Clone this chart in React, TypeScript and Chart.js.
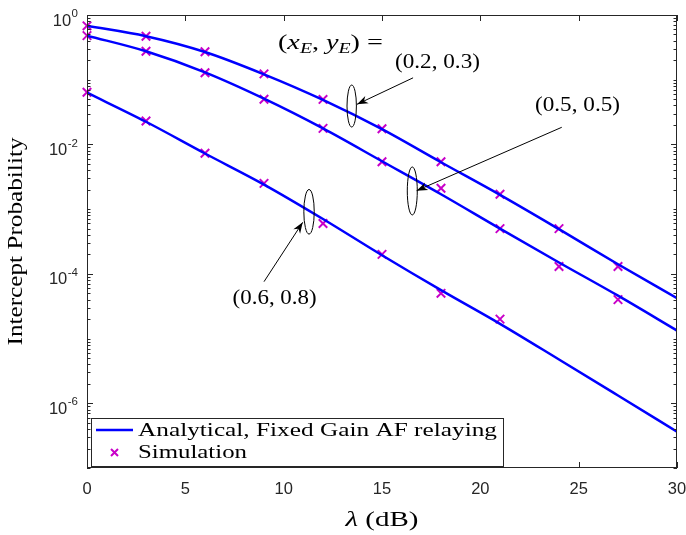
import { useEffect, useRef } from 'react';
import { Chart, registerables } from 'chart.js';

Chart.register(...registerables);

const W = 686;
const H = 535;

// x positions (dB)
const lambdaDb = [0, 3, 6, 9, 12, 15, 18, 21, 24, 27, 30];
const simLambda_02_03 = [0, 3, 6, 9, 12, 15, 18, 21, 24, 27];
const simLambda_05_05 = [0, 3, 6, 9, 12, 15, 18, 21, 24, 27];
const simLambda_06_08 = [0, 3, 6, 9, 12, 15, 18, 21];

// Analytical curves
const analytical_02_03 = [0.68, 0.47, 0.268, 0.121, 0.0487, 0.0172, 0.0053, 0.00166, 4.9e-4, 1.41e-4, 4.2e-5];
const analytical_05_05 = [0.48, 0.275, 0.13, 0.051, 0.0177, 0.0055, 0.0017, 5.0e-4, 1.5e-4, 4.6e-5, 1.33e-5];
const analytical_06_08 = [0.063, 0.0224, 0.00724, 0.0024, 7.05e-4, 1.94e-4, 5.6e-5, 1.69e-5, 4.75e-6, 1.32e-6, 3.65e-7];

// Simulation points
const sim_02_03 = [0.68, 0.47, 0.27, 0.123, 0.0496, 0.0175, 0.0054, 0.0017, 5.0e-4, 1.3e-4];
const sim_05_05 = [0.48, 0.275, 0.128, 0.05, 0.0177, 0.0054, 0.0021, 5.0e-4, 1.3e-4, 4.0e-5];
const sim_06_08 = [0.064, 0.023, 0.0073, 0.0025, 6.0e-4, 2.0e-4, 5.0e-5, 2.0e-5];

// Axis ticks
const xTicks = [0, 5, 10, 15, 20, 25, 30];
const xTickLabels = ['0', '5', '10', '15', '20', '25', '30'];
const yDecades = [0, -1, -2, -3, -4, -5, -6, -7];
const yLabelExps = [0, -2, -4, -6];

const LINE_COLOR = '#0000ff';
const MARK_COLOR = '#c800c8';
const AXIS_COLOR = '#262626';
const SERIF = '"Liberation Serif"';
const SANS = '"Liberation Sans"';

const zip = (xs: number[], ys: number[]) => ys.map((y, i) => ({ x: xs[i], y }));

type Seg = { t: string; font: string; dy?: number };

function drawRich(ctx: CanvasRenderingContext2D, segs: Seg[], cx: number, baseline: number, targetW: number) {
  const widths = segs.map((s) => {
    ctx.font = s.font;
    return ctx.measureText(s.t).width;
  });
  const total = widths.reduce((a, b) => a + b, 0);
  const sc = targetW / total;
  ctx.save();
  ctx.translate(cx - targetW / 2, baseline);
  ctx.scale(sc, 1);
  ctx.textAlign = 'left';
  ctx.textBaseline = 'alphabetic';
  let x = 0;
  segs.forEach((s, i) => {
    ctx.font = s.font;
    ctx.fillText(s.t, x, s.dy || 0);
    x += widths[i];
  });
  ctx.restore();
}

function drawX(ctx: CanvasRenderingContext2D, x: number, y: number, h: number) {
  ctx.beginPath();
  ctx.moveTo(x - h, y - h);
  ctx.lineTo(x + h, y + h);
  ctx.moveTo(x - h, y + h);
  ctx.lineTo(x + h, y - h);
  ctx.stroke();
}

function arrow(ctx: CanvasRenderingContext2D, x1: number, y1: number, x2: number, y2: number) {
  ctx.beginPath();
  ctx.moveTo(x1, y1);
  ctx.lineTo(x2, y2);
  ctx.stroke();
  const a = Math.atan2(y2 - y1, x2 - x1);
  const L = 11;
  const hw = 4;
  ctx.save();
  ctx.translate(x2, y2);
  ctx.rotate(a);
  ctx.beginPath();
  ctx.moveTo(0, 0);
  ctx.lineTo(-L, -hw);
  ctx.lineTo(-L * 0.7, 0);
  ctx.lineTo(-L, hw);
  ctx.closePath();
  ctx.fill();
  ctx.restore();
}

const decorPlugin = {
  id: 'decor',
  afterDraw(chart: any) {
    const ctx: CanvasRenderingContext2D = chart.ctx;
    const { left, right, top, bottom } = chart.chartArea;
    const xs = chart.scales.x;
    const ys = chart.scales.y;
    const P = (xv: number, yv: number) => [xs.getPixelForValue(xv), ys.getPixelForValue(yv)];
    ctx.save();

    // axes box
    ctx.strokeStyle = AXIS_COLOR;
    ctx.lineWidth = 1;
    ctx.strokeRect(left + 0.5, top + 0.5, right - left - 1, bottom - top - 1);

    // x ticks
    ctx.beginPath();
    xTicks.forEach((v) => {
      const px = Math.round(xs.getPixelForValue(v)) + 0.5;
      ctx.moveTo(px, bottom);
      ctx.lineTo(px, bottom - 6);
      ctx.moveTo(px, top);
      ctx.lineTo(px, top + 6);
    });
    // y ticks
    yDecades.forEach((e) => {
      for (let m = 1; m <= 9; m++) {
        const v = m * Math.pow(10, e);
        if (v > 1.0000001 || v < 0.99e-7) continue;
        const py = Math.round(ys.getPixelForValue(v)) + 0.5;
        const len = m === 1 && yLabelExps.includes(e) ? 6 : 3.5;
        ctx.moveTo(left, py);
        ctx.lineTo(left + len, py);
        ctx.moveTo(right, py);
        ctx.lineTo(right - len, py);
      }
    });
    ctx.stroke();

    // x tick labels
    ctx.fillStyle = AXIS_COLOR;
    ctx.font = `16.5px ${SANS}`;
    ctx.textAlign = 'center';
    ctx.textBaseline = 'middle';
    xTicks.forEach((v, i) => {
      ctx.fillText(xTickLabels[i], xs.getPixelForValue(v), 489);
    });

    // y tick labels 10^e
    yLabelExps.forEach((e) => {
      const py = ys.getPixelForValue(Math.pow(10, e));
      const sup = e === 0 ? '0' : '-' + String(-e);
      ctx.textAlign = 'right';
      ctx.textBaseline = 'middle';
      ctx.font = `11.5px ${SANS}`;
      const supW = ctx.measureText(sup).width;
      ctx.fillText(sup, 78, py - 1);
      ctx.font = `16.5px ${SANS}`;
      ctx.fillText('10', 78 - supW - 0.5, py + 6);
    });

    // axis titles
    ctx.fillStyle = '#000';
    drawRich(ctx, [
      { t: 'λ', font: `italic 20px ${SERIF}` },
      { t: ' (dB)', font: `20px ${SERIF}` },
    ], (left + right) / 2, 526, 73);

    ctx.save();
    ctx.translate(22, (top + bottom) / 2);
    ctx.rotate(-Math.PI / 2);
    drawRich(ctx, [{ t: 'Intercept Probability', font: `20px ${SERIF}` }], 0, 0, 208);
    ctx.restore();

    // legend
    const lx = 91, ly = 418, lw = 412, lh = 48;
    ctx.fillStyle = '#fff';
    ctx.fillRect(lx, ly, lw, lh);
    ctx.strokeStyle = AXIS_COLOR;
    ctx.lineWidth = 1;
    ctx.strokeRect(lx + 0.5, ly + 0.5, lw, lh);
    ctx.strokeStyle = LINE_COLOR;
    ctx.lineWidth = 2.5;
    ctx.beginPath();
    ctx.moveTo(96, 430);
    ctx.lineTo(133, 430);
    ctx.stroke();
    ctx.strokeStyle = MARK_COLOR;
    ctx.lineWidth = 2;
    drawX(ctx, 114.5, 452.5, 3.5);
    ctx.fillStyle = '#000';
    drawRich(ctx, [{ t: 'Analytical, Fixed Gain AF relaying', font: `19px ${SERIF}` }], 138 + 359 / 2, 436, 359);
    drawRich(ctx, [{ t: 'Simulation', font: `19px ${SERIF}` }], 138 + 109 / 2, 458, 109);

    // annotations (in data coordinates)
    ctx.fillStyle = '#000';
    ctx.strokeStyle = '#000';
    ctx.lineWidth = 1;
    const it = `italic 20px ${SERIF}`;
    const rm = `20px ${SERIF}`;
    const sub = `italic 14px ${SERIF}`;
    let p = P(12.38, 0.356);
    drawRich(ctx, [
      { t: '(', font: rm },
      { t: 'x', font: it },
      { t: 'E', font: sub, dy: 4 },
      { t: ', ', font: rm },
      { t: 'y', font: it },
      { t: 'E', font: sub, dy: 4 },
      { t: ') =', font: rm },
    ], p[0], p[1] + 5, 105);
    p = P(17.82, 0.188);
    drawRich(ctx, [{ t: '(0.2, 0.3)', font: rm }], p[0], p[1] + 6, 85);
    p = P(24.94, 0.0407);
    drawRich(ctx, [{ t: '(0.5, 0.5)', font: rm }], p[0], p[1] + 6, 85);
    p = P(9.54, 4.24e-5);
    drawRich(ctx, [{ t: '(0.6, 0.8)', font: rm }], p[0], p[1] + 6, 84);

    const ell = (xv: number, yv: number, rx: number, ry: number) => {
      const q = P(xv, yv);
      ctx.beginPath();
      ctx.ellipse(q[0], q[1], rx, ry, 0, 0, Math.PI * 2);
      ctx.stroke();
    };
    ell(13.46, 0.0392, 4.7, 21);
    ell(16.54, 1.91e-3, 5, 24);
    ell(11.29, 9.1e-4, 5.2, 22.3);

    let a = P(16.58, 0.107), b = P(13.73, 0.0417);
    arrow(ctx, a[0], a[1], b[0], b[1]);
    a = P(24.14, 0.0184); b = P(16.76, 1.93e-3);
    arrow(ctx, a[0], a[1], b[0], b[1]);
    a = P(9.0, 7.57e-5); b = P(10.97, 6.26e-4);
    arrow(ctx, a[0], a[1], b[0], b[1]);

    ctx.restore();
  },
};

export default function App() {
  const ref = useRef<HTMLCanvasElement>(null);
  useEffect(() => {
    document.body.style.margin = '0';
    const lineDs = (label: string, ys: number[]) => ({
      type: 'line' as const,
      label,
      data: zip(lambdaDb, ys),
      borderColor: LINE_COLOR,
      backgroundColor: LINE_COLOR,
      borderWidth: 2.5,
      pointRadius: 0,
      cubicInterpolationMode: 'monotone' as const,
      fill: false,
    });
    const simDs = (label: string, xsArr: number[], ys: number[]) => ({
      type: 'scatter' as const,
      label,
      data: zip(xsArr, ys),
      borderColor: MARK_COLOR,
      backgroundColor: MARK_COLOR,
      pointStyle: 'crossRot' as const,
      pointRadius: 6,
      pointBorderWidth: 2,
      showLine: false,
      clip: false as any,
    });
    const chart = new Chart(ref.current!, {
      type: 'line',
      data: {
        datasets: [
          lineDs('Analytical (0.2,0.3)', analytical_02_03),
          lineDs('Analytical (0.5,0.5)', analytical_05_05),
          lineDs('Analytical (0.6,0.8)', analytical_06_08),
          simDs('Simulation (0.2,0.3)', simLambda_02_03, sim_02_03),
          simDs('Simulation (0.5,0.5)', simLambda_05_05, sim_05_05),
          simDs('Simulation (0.6,0.8)', simLambda_06_08, sim_06_08),
        ] as any,
      },
      options: {
        responsive: false,
        animation: false,
        layout: { padding: { left: 87, right: 9, top: 15, bottom: 67 } },
        scales: {
          x: { type: 'linear', min: 0, max: 30, display: false },
          y: { type: 'logarithmic', min: 1e-7, max: 1, display: false },
        },
        plugins: {
          legend: { display: false },
          tooltip: { enabled: false },
        },
      },
      plugins: [decorPlugin],
    });
    return () => chart.destroy();
  }, []);
  return (
    <div style={{ position: 'fixed', left: 0, top: 0, width: W, height: H, background: '#fff' }}>
      <canvas ref={ref} width={W} height={H} style={{ display: 'block', width: W, height: H }} />
    </div>
  );
}
